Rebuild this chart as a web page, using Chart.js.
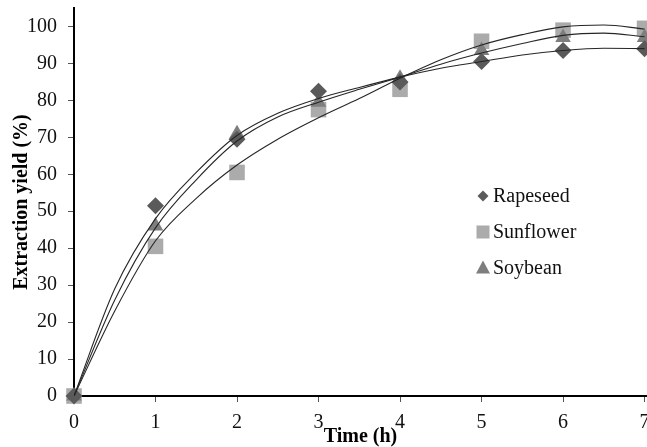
<!DOCTYPE html>
<html>
<head>
<meta charset="utf-8">
<script src="https://cdn.jsdelivr.net/npm/chart.js@4.4.1/dist/chart.umd.min.js"></script>
<style>
    body { margin: 0; background: #fff; }
    #wrap { width: 647px; height: 447px; position: relative; }
</style>
</head>
<body>
<div id="wrap"><canvas id="myChart"></canvas></div>
<script>
// measured points
var times = [0, 1, 2, 3, 4, 5, 6, 7];
var rapeseed = [0, 51.5, 69.5, 82.5, 85, 90.5, 93.5, 94];
var sunflower = [0, 40.5, 60.5, 77.5, 83, 96, 99, 99.5];
var soybean = [0, 46, 71, 79.5, 86, 93.5, 97, 97];

// fitted curves
var fitTimes = [0, 0.5, 1, 1.5, 2, 2.5, 3, 3.5, 4, 4.5, 5, 5.5, 6, 6.5, 7];
var rapeseedFit = [0, 29, 48, 60.5, 70.5, 76.5, 80.5, 83.5, 86.3, 88.7, 90.5, 92.3, 93.5, 94.1, 94];
var soybeanFit = [0, 26, 45.5, 58.5, 69, 75.5, 79.5, 83, 86.3, 89.8, 92.8, 95.4, 97.6, 98.2, 97.2];
var sunflowerFit = [0, 23, 42, 53.5, 62.5, 69.5, 75.3, 80.5, 86, 91, 95, 97.8, 99.9, 100.4, 99.3];

var xTicks = [0, 1, 2, 3, 4, 5, 6, 7];
var yTicks = [0, 10, 20, 30, 40, 50, 60, 70, 80, 90, 100];

var seriesNames = ["Rapeseed", "Sunflower", "Soybean"];
var seriesColors = ["#5a5a5a", "#ababab", "#7e7e7e"];

function pts(xs, ys) {
    return xs.map(function (x, i) { return { x: x, y: ys[i] }; });
}

function fitLine(ys) {
    return {
        data: pts(fitTimes, ys),
        showLine: true,
        pointRadius: 0,
        borderColor: "#262626",
        borderWidth: 1.1,
        cubicInterpolationMode: "monotone",
        order: 0
    };
}

// legend drawn inside the plot, like the original
const insideLegend = {
    id: "insideLegend",
    afterDraw(chart) {
        const ctx = chart.ctx;
        const x = 483, y0 = 196, step = 36;
        ctx.save();
        ctx.font = "20px 'Liberation Serif'";
        ctx.textBaseline = "middle";
        seriesNames.forEach(function (name, i) {
            const y = y0 + i * step;
            ctx.fillStyle = seriesColors[i];
            ctx.beginPath();
            if (i == 0) {
                ctx.moveTo(x - 5.5, y); ctx.lineTo(x, y - 5.5);
                ctx.lineTo(x + 5.5, y); ctx.lineTo(x, y + 5.5);
            } else if (i == 1) {
                ctx.rect(x - 6.5, y - 6.5, 13, 13);
            } else {
                ctx.moveTo(x, y - 7.5); ctx.lineTo(x + 7, y + 5.5); ctx.lineTo(x - 7, y + 5.5);
            }
            ctx.closePath();
            ctx.fill();
            ctx.fillStyle = "#111";
            ctx.fillText(name, x + 10, y + 1);
        });
        ctx.restore();
    }
};

new Chart("myChart", {
    type: "scatter",
    data: {
        datasets: [
            fitLine(rapeseedFit),
            fitLine(soybeanFit),
            fitLine(sunflowerFit),
            {
                label: seriesNames[0],
                data: pts(times, rapeseed),
                pointStyle: "rectRot",
                pointRadius: 8.5,
                pointHoverRadius: 8.5,
                backgroundColor: seriesColors[0],
                borderWidth: 0,
                clip: false,
                order: 1
            },
            {
                label: seriesNames[2],
                data: pts(times, soybean),
                pointStyle: "triangle",
                pointRadius: 9,
                pointHoverRadius: 9,
                backgroundColor: seriesColors[2],
                borderWidth: 0,
                clip: false,
                order: 2
            },
            {
                label: seriesNames[1],
                data: pts(times, sunflower),
                pointStyle: "rect",
                pointRadius: 11,
                pointHoverRadius: 11,
                backgroundColor: seriesColors[1],
                borderWidth: 0,
                clip: false,
                order: 3
            }
        ]
    },
    options: {
        responsive: true,
        maintainAspectRatio: false,
        animation: false,
        layout: { autoPadding: false, padding: { top: 8, right: 0, bottom: 0, left: 0 } },
        plugins: {
            legend: { display: false },
            tooltip: { enabled: false }
        },
        scales: {
            x: {
                type: "linear",
                min: 0,
                max: 7.03,
                afterBuildTicks: function (s) { s.ticks = xTicks.map(function (v) { return { value: v }; }); },
                afterFit: function (s) { s.height = 51; s.paddingLeft = 0; s.paddingRight = 0; },
                ticks: {
                    color: "#111",
                    padding: 9,
                    font: { family: "'Liberation Serif'", size: 20 }
                },
                grid: { drawOnChartArea: false, tickLength: 6, color: "#555" },
                border: { color: "#000", width: 2 },
                title: {
                    display: true,
                    text: "Time (h)",
                    color: "#000",
                    padding: 0,
                    font: { family: "'Liberation Serif'", size: 20, weight: "bold", lineHeight: 1 }
                }
            },
            y: {
                min: 0,
                max: 105,
                afterBuildTicks: function (s) { s.ticks = yTicks.map(function (v) { return { value: v }; }); },
                afterFit: function (s) { s.width = 74; s.paddingTop = 0; s.paddingBottom = 0; },
                ticks: {
                    color: "#111",
                    padding: 11,
                    font: { family: "'Liberation Serif'", size: 20 }
                },
                grid: { drawOnChartArea: false, tickLength: 6, color: "#555" },
                border: { color: "#000", width: 2 },
                title: {
                    display: true,
                    text: "Extraction yield (%)",
                    color: "#000",
                    padding: { top: 12, bottom: 0 },
                    font: { family: "'Liberation Serif'", size: 20, weight: "bold", lineHeight: 1 }
                }
            }
        }
    },
    plugins: [insideLegend]
});
</script>
</body>
</html>
